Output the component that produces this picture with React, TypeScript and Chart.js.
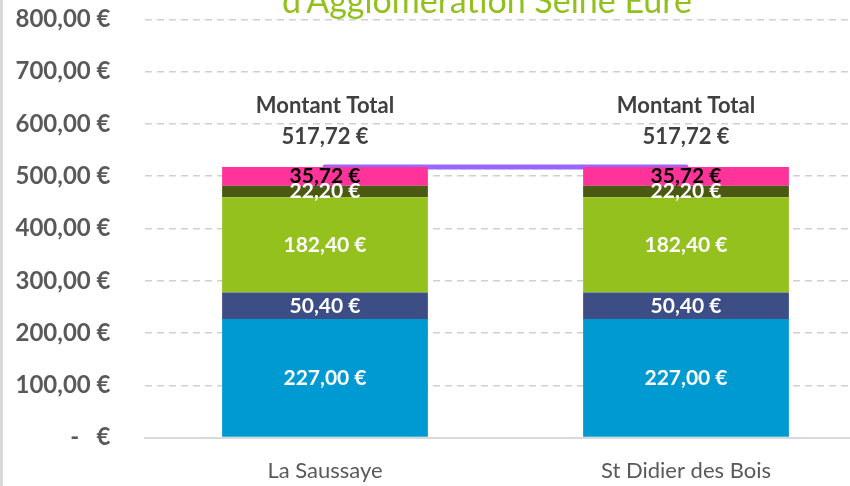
import React, { useEffect, useRef } from "react";
import { Chart, registerables } from "chart.js";
Chart.register(...registerables);

const categories = ["La Saussaye", "St Didier des Bois"];
const seriesA = [227.0, 227.0];
const seriesB = [50.4, 50.4];
const seriesC = [182.4, 182.4];
const seriesD = [22.2, 22.2];
const seriesE = [35.72, 35.72];
const totals = [517.72, 517.72];
const totalLabel = "Montant Total";
const titleText = "d'Agglomération Seine Eure";
const yMin = 0;
const yMax = 800;
const yStep = 100;

const NB = "\u00a0";
const fmt = (v: number) =>
  v === 0 ? "-" + NB + NB + NB + "€" : v.toFixed(2).replace(".", ",") + NB + "€";

const FONT = "Lato";
const SHIFT = 29;

const decorPlugin = {
  id: "decor",
  beforeDraw(chart: any) {
    const ctx = chart.ctx;
    ctx.save();
    ctx.fillStyle = "#ffffff";
    ctx.fillRect(0, 0, chart.width, chart.height);
    ctx.strokeStyle = "#d9d9d9";
    ctx.lineWidth = 3;
    ctx.beginPath();
    ctx.moveTo(1.5, 0);
    ctx.lineTo(1.5, chart.height);
    ctx.stroke();
    ctx.restore();
  },
  afterDraw(chart: any) {
    const ctx = chart.ctx;
    ctx.save();
    ctx.font = `34px ${FONT}`;
    ctx.fillStyle = "#92c01f";
    ctx.textAlign = "center";
    ctx.textBaseline = "alphabetic";
    ctx.fillText(titleText, 487, 13 + SHIFT);
    ctx.restore();
  },
};

const labelsPlugin = {
  id: "valueLabels",
  afterDatasetsDraw(chart: any) {
    const ctx = chart.ctx;
    ctx.save();
    ctx.textAlign = "center";
    ctx.textBaseline = "middle";
    chart.data.datasets.forEach((ds: any, i: number) => {
      const meta = chart.getDatasetMeta(i);
      if (meta.hidden) return;
      meta.data.forEach((el: any, j: number) => {
        const v = ds.data[j] as number;
        if (meta.type === "bar") {
          ctx.font = `bold 21px ${FONT}`;
          ctx.fillStyle = ds.labelColor;
          ctx.fillText(fmt(v), el.x, (el.y + el.base) / 2);
        } else {
          ctx.font = `bold 22px ${FONT}`;
          ctx.fillStyle = "#404040";
          ctx.fillText(totalLabel, el.x, el.y - 61);
          ctx.fillText(fmt(v), el.x, el.y - 30);
        }
      });
    });
    ctx.restore();
  },
};

export default function App() {
  const ref = useRef<HTMLCanvasElement>(null);
  useEffect(() => {
    document.body.style.margin = "0";
    const bar = (data: number[], color: string, labelColor: string) => ({
      type: "bar" as const,
      data,
      backgroundColor: color,
      labelColor,
      stack: "s",
      order: 1,
      categoryPercentage: 1,
      barPercentage: 0.57,
    });
    const chart = new Chart(ref.current!, {
      type: "bar",
      data: {
        labels: categories,
        datasets: [
          bar(seriesA, "#009ad3", "#ffffff"),
          bar(seriesB, "#3d4e86", "#ffffff"),
          bar(seriesC, "#95c11f", "#ffffff"),
          bar(seriesD, "#4b5a13", "#ffffff"),
          bar(seriesE, "#ff3399", "#000000"),
          {
            type: "line",
            data: totals,
            stack: "total",
            order: 10,
            borderColor: "#9966ff",
            borderWidth: 5,
            borderCapStyle: "round",
            pointRadius: 0,
            fill: false,
          } as any,
        ] as any,
      },
      options: {
        animation: false,
        responsive: false,
        devicePixelRatio: 1,
        layout: { padding: { top: 18, right: 13.5, left: 0, bottom: 0 } },
        plugins: {
          legend: { display: false },
          tooltip: { enabled: false },
          title: { display: false },
        },
        scales: {
          x: {
            stacked: true,
            grid: { display: false, drawTicks: false },
            border: { display: true, color: "#d9d9d9", width: 2 },
            ticks: { font: { family: FONT, size: 22 }, color: "#595959", padding: 20 },
            afterFit: (s: any) => {
              s.height = 47;
            },
          },
          y: {
            stacked: true,
            min: yMin,
            max: yMax,
            ticks: {
              stepSize: yStep,
              callback: (v: any) => fmt(Number(v)),
              font: { family: FONT, size: 24, weight: "bold" },
              color: "#595959",
              padding: 34,
            },
            grid: {
              drawTicks: false,
              color: (c: any) => (c.tick && c.tick.value === 0 ? "rgba(0,0,0,0)" : "#d0d0d0"),
              lineWidth: 1.5,
            },
            border: { display: false, dash: [7, 5] },
            afterFit: (s: any) => {
              s.width = 144.5;
            },
          },
        },
      } as any,
      plugins: [decorPlugin, labelsPlugin],
    });
    return () => chart.destroy();
  }, []);
  return (
    <div style={{ position: "fixed", left: 0, top: 0, width: 850, height: 486, overflow: "hidden", background: "#fff" }}>
      <canvas
        ref={ref}
        width={880}
        height={486 + SHIFT}
        style={{ width: 880, height: 486 + SHIFT, display: "block", marginTop: -SHIFT }}
      />
    </div>
  );
}
